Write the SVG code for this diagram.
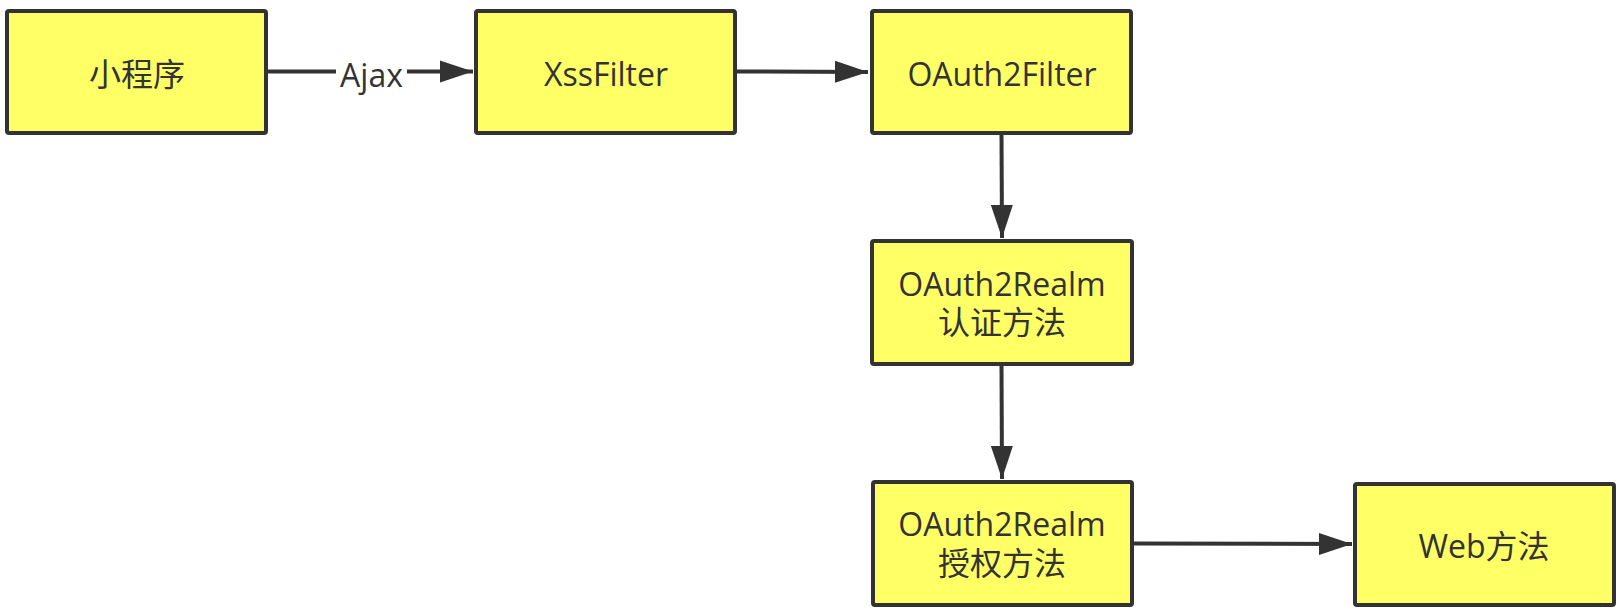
<svg xmlns="http://www.w3.org/2000/svg" width="1622" height="614" viewBox="0 0 1622 614">
<style>
.box{fill:#ffff66;stroke:#333333;stroke-width:4;}
.t{font-family:"Open Sans","Noto Sans CJK SC",sans-serif;font-size:32px;fill:#333333;text-anchor:middle;}
.c{stroke:#333333;stroke-width:4;fill:none;}
</style>
<defs>
<marker id="ah" markerUnits="userSpaceOnUse" markerWidth="34" markerHeight="24" refX="33" refY="11" orient="auto" viewBox="0 0 34 22">
<path d="M0,0 L33,11 L0,22 Z" fill="#333333"/>
</marker>
</defs>
<rect width="1622" height="614" fill="#ffffff"/>
<g id="connectors">
<path class="c" d="M268,71.5 L473,71.5" marker-end="url(#ah)"/>
<rect x="336" y="56" width="71" height="36" fill="#ffffff"/>
<text class="t" x="371.5" y="87">Ajax</text>
<path class="c" d="M737,71.5 L868,72" marker-end="url(#ah)"/>
<path class="c" d="M1001.5,134 L1002,238" marker-end="url(#ah)"/>
<path class="c" d="M1001.5,366 L1002,479" marker-end="url(#ah)"/>
<path class="c" d="M1134,543.5 L1352,544" marker-end="url(#ah)"/>
</g>
<g id="n1"><rect class="box" x="7" y="11" width="259" height="122" rx="2"/><text class="t" x="137" y="86">小程序</text></g>
<g id="n2"><rect class="box" x="476" y="11" width="259" height="122" rx="2"/><text class="t" x="606" y="86">XssFilter</text></g>
<g id="n3"><rect class="box" x="872" y="11" width="259" height="122" rx="2"/><text class="t" x="1002" y="86">OAuth2Filter</text></g>
<g id="n4"><rect class="box" x="872" y="241" width="260" height="123" rx="2"/><text class="t" x="1002" y="296">OAuth2Realm<tspan x="1002" y="334">认证方法</tspan></text></g>
<g id="n5"><rect class="box" x="873" y="482" width="259" height="123" rx="2"/><text class="t" x="1002" y="536">OAuth2Realm<tspan x="1002" y="575">授权方法</tspan></text></g>
<g id="n6"><rect class="box" x="1355" y="484" width="259" height="121" rx="2"/><text class="t" x="1484" y="558">Web方法</text></g>
</svg>
